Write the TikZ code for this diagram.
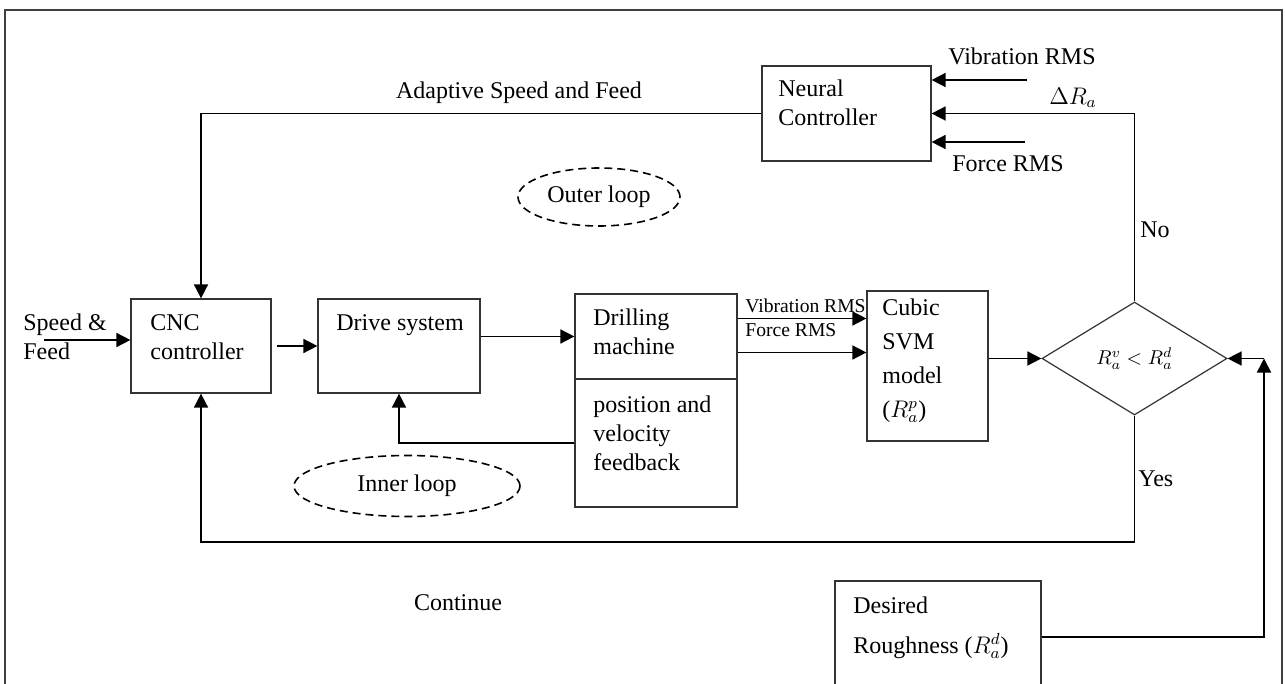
\documentclass[tikz,border=0pt]{standalone}
\usepackage{fontspec}
\setmainfont{Liberation Serif}
\usetikzlibrary{arrows.meta,shapes.geometric,fit}
\tikzset{
  blk/.style={draw=black!80, line width=0.6pt, inner sep=0pt},
  txt/.style={inner sep=0pt, anchor=north west, align=left, font=\fontsize{12}{14.5}\selectfont},
  small/.style={inner sep=0pt, anchor=west, font=\fontsize{9.8}{12}\selectfont},
  loopbox/.style={draw, ellipse, dash pattern=on 4pt off 2.5pt, line width=0.8pt, inner sep=0pt, font=\fontsize{12}{14}\selectfont},
  arr/.style={-{Triangle[length=7pt,width=7pt]}, line width=0.8pt}
}
\begin{document}
\begin{tikzpicture}[x=0.5pt,y=-0.5pt]
\useasboundingbox (0,0) rectangle (1285,684);
\clip (0,0) rectangle (1285,684);
% frame
\draw[black!75, line width=1.2pt] (5,10) rectangle (1282,720);

% blocks
\node[blk, fit={(131,299) (271,393)}] (cnc) {};
\node[blk, fit={(318,299) (480,393)}] (drive) {};
\node[blk, fit={(575,294) (737,379)}] (drill) {};
\node[blk, fit={(575,379) (737,507)}] (posfb) {};
\node[blk, fit={(867,291) (988,441)}] (svm) {};
\node[blk, fit={(762,66) (931,161)}] (neural) {};
\node[blk, fit={(835,581) (1041,693)}] (desired) {};
\node[blk, diamond, minimum width=92.5pt, minimum height=56.5pt] (dec) at (1134.5,358.5) {\fontsize{10}{12}\selectfont $R_a^v < R_a^d$};

% texts in the blocks
\node[txt] (speedtxt) at (23,313) {Speed \&\\Feed};
\node[txt] (cnctxt) at (150,314) {CNC\\controller};
\node[txt] (drivetxt) at (336,314) {Drive system};
\node[txt] (drilltxt) at (593,308) {Drilling\\machine};
\node[txt] (postxt) at (593,395) {position and\\velocity\\feedback};
\node[txt, font=\fontsize{12}{17}\selectfont] (svmtxt) at (882,298) {Cubic\\SVM\\model\\($R_a^p$)};
\node[txt] (neuraltxt) at (778,79) {Neural\\Controller};
\node[txt, font=\fontsize{12}{20}\selectfont] (destxt) at (853,596) {Desired\\Roughness ($R_a^d$)};

% loops
\node[loopbox, minimum width=81pt, minimum height=29pt] (outer) at (599,197) {Outer loop};
\node[loopbox, minimum width=113pt, minimum height=30.5pt] (inner) at (407,486) {Inner loop\hspace{16pt}};

% labels
\node[small] (vibsm) at (745,306) {Vibration RMS};
\node[small] (forsm) at (745,330) {Force RMS};
\node[txt, anchor=center] (adapt) at (519,93) {Adaptive Speed and Feed};
\node[txt, anchor=center] (viblab) at (1022,56) {Vibration RMS};
\node[txt, anchor=center] (dra) at (1073,98) {$\Delta R_a$};
\node[txt, anchor=center] (forlab) at (1008,164) {Force RMS};
\node[txt, anchor=west] (nolab) at (1140,230) {No};
\node[txt, anchor=west] (yeslab) at (1138,479) {Yes};
\node[txt, anchor=center] (cont) at (458,603) {Continue};

% free ends and bends
\coordinate (sfin) at (44,340);
\coordinate (vibin) at (1027,80);
\coordinate (forin) at (1025,142);
\coordinate (yesbend) at (1134.5,542);
\coordinate (rbend) at (1264,358.5);

% connectors
\draw[arr] (sfin) -- (sfin -| cnc.west);
\draw[arr] ([xshift=2.5pt]cnc.east) -- (drive.west);
\draw[arr] (drive.east |- drill.west) -- (drill.west);
\draw[arr] (posfb.west) -| (drive.south);
\draw[arr] ([yshift=9pt]drill.east) -- ([yshift=9pt]drill.east -| svm.west);
\draw[arr] ([yshift=-8pt]drill.east) -- ([yshift=-8pt]drill.east -| svm.west);
\draw[arr] (svm.east |- dec.west) -- (dec.west);
\draw[arr] (dec.north) |- (neural.east);
\draw[arr] (vibin) -- (vibin -| neural.east);
\draw[arr] (forin) -- (forin -| neural.east);
\draw[arr] (neural.west) -| (cnc.north);
\draw[arr] (dec.south) -- (yesbend) -| (cnc.south);
\draw[arr] (desired.east) -| (rbend);
\draw[arr] (rbend) -- (dec.east);
\end{tikzpicture}
\end{document}
